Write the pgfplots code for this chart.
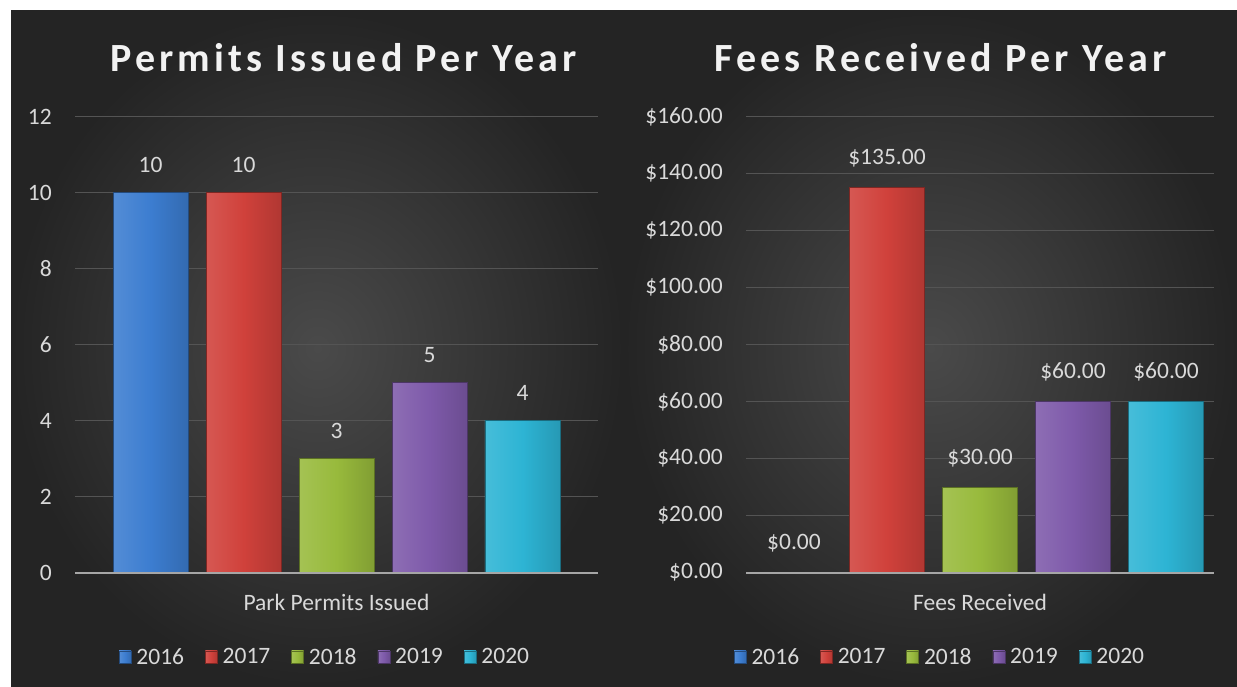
\documentclass[border=0pt]{standalone}
\usepackage{pgfplots}
\pgfplotsset{compat=1.18}
\usepackage{fontspec}
\setmainfont{Carlito}
\newfontfamily\titlefont[LetterSpace=10.5]{Carlito}

\definecolor{tc}{RGB}{217,217,217}
\definecolor{titc}{RGB}{242,242,242}
\definecolor{gridc}{RGB}{84,84,84}
\definecolor{axc}{RGB}{166,166,166}
\definecolor{bgin}{RGB}{74,74,74}
\definecolor{bgout}{RGB}{36,36,36}
\definecolor{cA}{RGB}{60,125,208}
\definecolor{cB}{RGB}{208,65,59}
\definecolor{cC}{RGB}{152,186,60}
\definecolor{cD}{RGB}{126,90,170}
\definecolor{cE}{RGB}{45,180,212}

\newcommand\tfont{\fontsize{23.5}{28}\selectfont}

\pgfplotsset{
  panel/.style={
    scale only axis, anchor=south west, clip=false,
    axis line style={draw=none},
    xtick=\empty, ytick style={draw=none}, major tick length=0pt,
    ymajorgrids, grid style={gridc, line width=1.2pt},
    yticklabel style={font=\tfont, text=tc, anchor=east, inner sep=0pt, xshift=-23pt},
    /pgf/number format/assume math mode=true,
    nodes near coords,
    every node near coord/.append style={font=\tfont, text=tc, anchor=south, inner sep=0pt, yshift=20pt},
    legend columns=5,
    legend style={draw=none, fill=none, font=\tfont, text=tc, inner sep=0pt,
       nodes={inner sep=1pt},
       /tikz/every odd column/.append style={column sep=4pt},
       /tikz/every even column/.append style={column sep=20pt}},
    legend image code/.code={\draw[#1] (0pt,-6pt) rectangle (12pt,6pt);},
  },
  bstyle/.style={ybar, bar width=75pt, bar shift=0pt,
    left color=#1!88!white, right color=#1!85!black, middle color=#1,
    draw=#1!60!black, line width=0.6pt},
}

\begin{document}
\begin{tikzpicture}[x=1pt,y=1pt]
\fill[white] (0,0) rectangle (1237,686);
\shade[inner color=bgin, outer color=bgout] (11,0) rectangle (624,675);
\shade[inner color=bgin, outer color=bgout] (624,0) rectangle (1237,675);

% titles
\node[anchor=base, text=titc, font=\titlefont\bfseries\fontsize{40}{48}\selectfont] at (343.5,614.5) {Permits Issued Per Year};
\node[anchor=base, text=titc, font=\titlefont\bfseries\fontsize{40}{48}\selectfont] at (940.5,614.5) {Fees Received Per Year};

% left chart
\begin{axis}[panel, at={(75pt,113.5pt)}, width=523pt, height=456pt,
  xmin=-0.812, xmax=4.812, ymin=0, ymax=12, ytick={0,2,...,12},
  legend style={at={(0.477,-0.185)}, anchor=center}]
\addplot[bstyle=cA] coordinates {(0,10)};
\addplot[bstyle=cB] coordinates {(1,10)};
\addplot[bstyle=cC] coordinates {(2,3)};
\addplot[bstyle=cD] coordinates {(3,5)};
\addplot[bstyle=cE] coordinates {(4,4)};
\legend{2016,2017,2018,2019,2020}
\draw[axc, line width=2pt] (rel axis cs:0,0) -- (rel axis cs:1,0);
\node[font=\tfont, text=tc] at (rel axis cs:0.500,-0.0647) {Park Permits Issued};
\end{axis}

% right chart
\begin{axis}[panel, at={(746pt,113.5pt)}, width=468pt, height=456pt,
  xmin=-0.516, xmax=4.516, ymin=0, ymax=160, ytick={0,20,...,160},
  yticklabels={\$0.00,\$20.00,\$40.00,\$60.00,\$80.00,\$100.00,\$120.00,\$140.00,\$160.00},
  nodes near coords={\$\pgfmathprintnumber[fixed,fixed zerofill,precision=2]{\pgfplotspointmeta}},
  legend style={at={(0.4135,-0.185)}, anchor=center}]
\addplot[bstyle=cA] coordinates {(0,0)};
\addplot[bstyle=cB] coordinates {(1,135)};
\addplot[bstyle=cC] coordinates {(2,30)};
\addplot[bstyle=cD] coordinates {(3,60)};
\addplot[bstyle=cE] coordinates {(4,60)};
\legend{2016,2017,2018,2019,2020}
\draw[axc, line width=2pt] (rel axis cs:0,0) -- (rel axis cs:1,0);
\node[font=\tfont, text=tc] at (rel axis cs:0.5,-0.0647) {Fees Received};
\end{axis}
\end{tikzpicture}
\end{document}
